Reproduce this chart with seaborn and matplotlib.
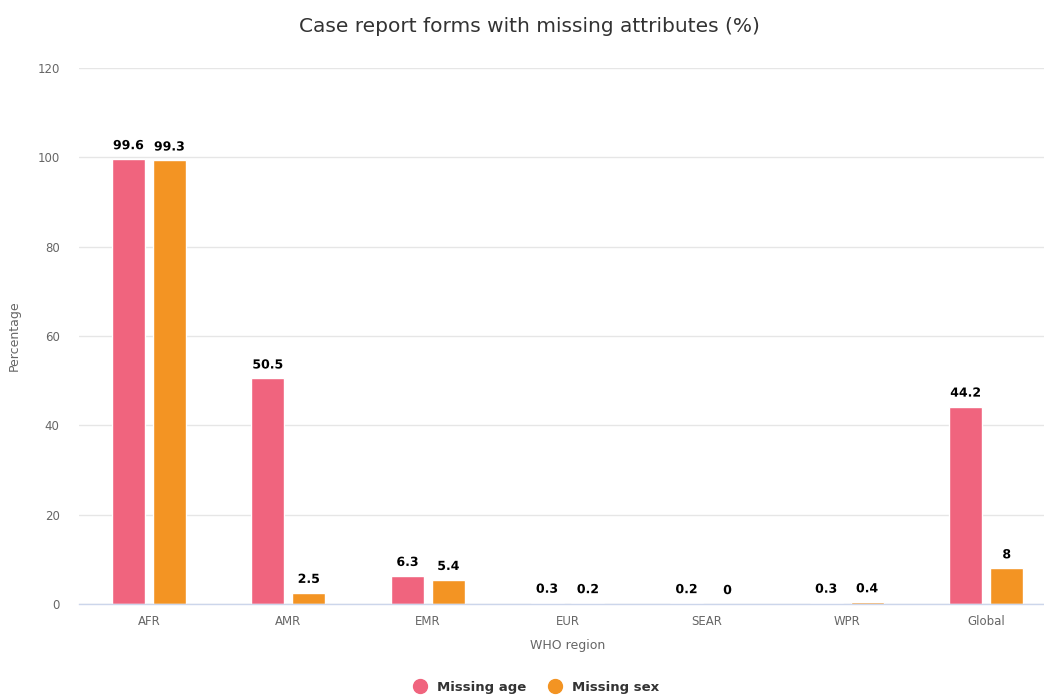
import matplotlib
matplotlib.use("Agg")
import matplotlib.pyplot as plt
import matplotlib.patheffects as pe
from matplotlib.lines import Line2D
import seaborn as sns
import pandas as pd

regions = ["AFR", "AMR", "EMR", "EUR", "SEAR", "WPR", "Global"]
missing_age = [99.6, 50.5, 6.3, 0.3, 0.2, 0.3, 44.2]
missing_sex = [99.3, 2.5, 5.4, 0.2, 0.0, 0.4, 8.0]
series_names = ["Missing age", "Missing sex"]
colors = ["#F0647E", "#F39423"]

df = pd.DataFrame({
    "region": regions * 2,
    "value": missing_age + missing_sex,
    "series": [series_names[0]] * len(regions) + [series_names[1]] * len(regions),
})

sns.set_style("white")
plt.rcParams["font.family"] = ["DejaVu Sans"]

fig = plt.figure(figsize=(10.44, 6.95), dpi=100)
ax = fig.add_axes([79 / 1044, 91 / 695, 977 / 1044, 536 / 695])

sns.barplot(data=df, x="region", y="value", hue="series", order=regions,
            hue_order=series_names, palette=colors, width=0.587, gap=0.195,
            saturation=1, ax=ax, legend=False, errorbar=None)

ax.set_ylim(0, 120)
ax.set_yticks(range(0, 121, 20))
ax.set_xlim(-0.5, len(regions) - 0.5)
ax.yaxis.grid(True, color="#e6e6e6", linewidth=1)
ax.set_axisbelow(True)
for s in ["top", "right", "left"]:
    ax.spines[s].set_visible(False)
ax.spines["bottom"].set_color("#ccd6eb")
ax.spines["bottom"].set_linewidth(1)
ax.tick_params(axis="both", length=0, colors="#666666", labelsize=8.5, pad=8)
ax.tick_params(axis="y", pad=14)

for cont in ax.containers:
    for bar in cont:
        h = bar.get_height()
        txt = f"{h:g}"
        ax.annotate(txt, (bar.get_x() + bar.get_width() / 2, h),
                    xytext=(0, 5), textcoords="offset points",
                    ha="center", va="bottom", fontsize=9, fontweight="bold",
                    color="#000000",
                    path_effects=[pe.withStroke(linewidth=3, foreground="white")])

ax.set_xlabel("WHO region", color="#666666", fontsize=9, labelpad=8)
ax.set_ylabel("Percentage", color="#666666", fontsize=9, labelpad=12)

fig.suptitle("Case report forms with missing attributes (%)", x=529.5 / 1044,
             y=1 - 26 / 695, va="center", fontsize=14.5, color="#333333")

handles = [Line2D([0], [0], marker="o", linestyle="", markersize=10,
                  markerfacecolor=c, markeredgecolor=c) for c in colors]
fig.legend(handles, series_names, loc="center", bbox_to_anchor=(533 / 1044, 8 / 695),
           ncol=2, frameon=False, handletextpad=0.3, columnspacing=1.2,
           prop={"weight": "bold", "size": 9.5}, labelcolor="#333333")

fig.savefig("out.png", dpi=100)
